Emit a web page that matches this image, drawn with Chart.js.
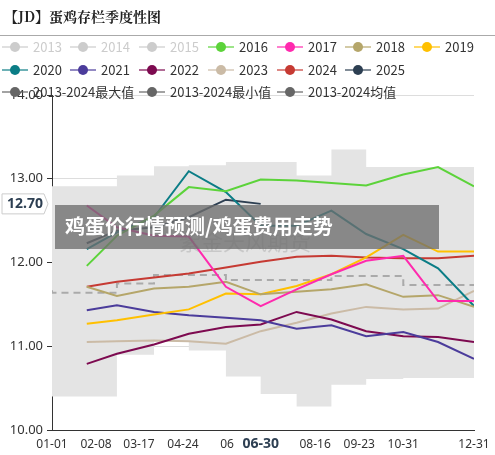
<!DOCTYPE html>
<html><head><meta charset="utf-8">
<script src="https://cdn.jsdelivr.net/npm/chart.js@4"></script>
<style>
body{margin:0;background:#fff;font-family:"Noto Sans CJK SC","Noto Sans",sans-serif}
#wrap{position:relative;width:495px;height:455px}
#title{position:absolute;left:4px;top:6px;font:bold 14px "Noto Serif CJK SC","Noto Sans CJK SC",serif;color:#222}
#rule{position:absolute;left:0;top:35px;width:495px;border-top:1px solid #aaa}
.lg{position:absolute;font-size:13px;color:#333;white-space:nowrap;height:16px;line-height:16px}
.lg i{position:absolute;left:0;top:7px;width:26px;height:2px}
.lg b{position:absolute;left:8px;top:3px;width:10px;height:10px;border-radius:50%}
.lg span{position:absolute;left:31px;top:0}
canvas{position:absolute;left:0;top:0}
</style></head><body>
<div id="wrap">
<canvas id="c" width="495" height="455"></canvas>
<div id="title">【JD】蛋鸡存栏季度性图</div>
<div id="rule"></div>
</div>
<script>
// point days (x axis is day of year)
const days = [30, 56, 88, 118, 150, 180, 211, 241, 271, 303, 333, 364];
const bandDays = [0, 56, 88, 118, 150, 180, 211, 241, 271, 303, 333, 364];
const tickDays = [0, 38, 75, 113, 151, 189, 227, 265, 303, 364];
const tickLabels = ["01-01", "02-08", "03-17", "04-24", "06", "", "08-16", "09-23", "10-31", "12-31"];

const y2016 = [11.96, 12.32, 12.56, 12.90, 12.85, 12.99, 12.98, 12.95, 12.92, 13.05, 13.14, 12.91];
const y2017 = [12.68, 12.42, 12.32, 12.31, 11.71, 11.48, 11.68, 11.86, 12.02, 12.08, 11.54, 11.54];
const y2018 = [11.71, 11.60, 11.69, 11.71, 11.77, 11.62, 11.65, 11.68, 11.74, 11.59, 11.61, 11.47];
const y2019 = [11.27, 11.31, 11.38, 11.44, 11.63, 11.62, 11.72, 11.86, 12.06, 12.33, 12.13, 12.13];
const y2020 = [12.16, 12.36, 12.54, 13.09, 12.84, 12.44, 12.44, 12.62, 12.34, 12.16, 11.93, 11.48];
const y2021 = [11.43, 11.49, 11.41, 11.37, 11.34, 11.31, 11.21, 11.25, 11.12, 11.17, 11.05, 10.85];
const y2022 = [10.79, 10.91, 11.02, 11.15, 11.23, 11.26, 11.41, 11.32, 11.18, 11.12, 11.11, 11.05];
const y2023 = [11.05, 11.06, 11.07, 11.06, 11.03, 11.18, 11.28, 11.39, 11.47, 11.44, 11.45, 11.66];
const y2024 = [11.71, 11.77, 11.82, 11.87, 11.94, 12.01, 12.07, 12.08, 12.06, 12.05, 12.05, 12.08];
const y2025 = [12.23, 12.38, 12.42, 12.54, 12.75, 12.70];
const maxVals = [12.85, 12.91, 13.04, 13.15, 13.16, 13.20, 13.20, 13.04, 13.35, 13.14, 13.14];
const minVals = [10.49, 10.40, 10.90, 11.06, 10.95, 10.64, 10.43, 10.28, 10.54, 10.61, 10.62];
const meanVals = [11.67, 11.64, 11.75, 11.85, 11.85, 11.79, 11.79, 11.79, 11.84, 11.84, 11.73];

const years = [
  ["2013", "#cccccc", null], ["2014", "#cccccc", null], ["2015", "#cccccc", null],
  ["2016", "#5cd33a", y2016], ["2017", "#ff2aae", y2017], ["2018", "#b5a66a", y2018],
  ["2019", "#ffc000", y2019], ["2020", "#0b7d86", y2020], ["2021", "#4b3c9b", y2021],
  ["2022", "#7d0a50", y2022], ["2023", "#cbbba6", y2023], ["2024", "#c63a33", y2024],
  ["2025", "#2d3f52", y2025]
];

function pts(xs, ys) { return ys.map((v, i) => ({ x: xs[i], y: v })); }
function stepPts(vals) { return pts(bandDays, vals.concat([vals[vals.length - 1]])); }

// legend
const wrap = document.getElementById("wrap");
const legendItems = years.map(y => [y[0], y[1]]).concat([
  ["2013-2024最大值", "#666"], ["2013-2024最小值", "#666"], ["2013-2024均值", "#666"]
]);
const legendPos = [
  [2, 39], [70, 39], [139, 39], [208, 39], [277, 39], [345, 39], [414, 39],
  [2, 62], [70, 62], [139, 62], [208, 62], [277, 62], [345, 62],
  [2, 84], [139, 84], [277, 84]
];
legendItems.forEach((it, i) => {
  const d = document.createElement("div");
  d.className = "lg";
  d.style.left = legendPos[i][0] + "px";
  d.style.top = legendPos[i][1] + "px";
  const grey = it[1] === "#cccccc";
  d.innerHTML = '<i style="background:' + it[1] + ';opacity:.6"></i><b style="background:' + it[1] + '"></b><span style="color:' + (grey ? "#ccc" : "#333") + '">' + it[0] + "</span>";
  wrap.appendChild(d);
});

const datasets = [];
years.forEach(y => {
  if (!y[2]) return;
  datasets.push({ data: pts(days, y[2]), borderColor: y[1], borderWidth: 2, pointRadius: 0, tension: 0, fill: false });
});
datasets.push({ data: stepPts(meanVals), borderColor: "#aaaaaa", borderWidth: 2, borderDash: [7, 5], pointRadius: 0, stepped: "after", fill: false });
datasets.push({ data: stepPts(minVals), borderWidth: 0, pointRadius: 0, stepped: "after", fill: false });
datasets.push({ data: stepPts(maxVals), borderWidth: 0, pointRadius: 0, stepped: "after", fill: "-1", backgroundColor: "#e4e4e4" });
// band drawn first
datasets.forEach((d, i) => d.order = i < datasets.length - 3 ? 0 : 5);

const overlay = {
  id: "overlay",
  afterDraw(chart) {
    const ctx = chart.ctx, xs = chart.scales.x, ys = chart.scales.y;
    ctx.save();
    // watermark
    ctx.font = "22px 'Noto Sans CJK SC'";
    ctx.fillStyle = "rgba(150,150,150,0.35)";
    ctx.textAlign = "center";
    ctx.fillText("紫金天风期货", 245, 250);
    // banner
    ctx.fillStyle = "rgba(110,110,110,0.78)";
    ctx.fillRect(55, 205, 384, 44);
    ctx.fillStyle = "#fff";
    ctx.textAlign = "left";
    ctx.font = "bold 20px 'Noto Sans CJK SC'";
    ctx.fillText("鸡蛋价行情预测/鸡蛋费用走势", 65, 234);
    // pointer label
    const py = ys.getPixelForValue(12.70);
    ctx.fillStyle = "#fff";
    ctx.strokeStyle = "#ccc";
    ctx.beginPath();
    ctx.moveTo(2, py - 10); ctx.lineTo(44, py - 10); ctx.lineTo(48, py); ctx.lineTo(44, py + 10); ctx.lineTo(2, py + 10); ctx.closePath();
    ctx.fill(); ctx.stroke();
    ctx.fillStyle = "#2d3f52";
    ctx.font = "bold 14px 'Noto Sans'";
    ctx.textAlign = "center";
    ctx.textBaseline = "middle";
    ctx.fillText("12.70", 25, py);
    // current date label
    ctx.font = "bold 14px 'Noto Sans'";
    ctx.textBaseline = "top";
    ctx.fillText("06-30", xs.getPixelForValue(180), xs.bottom - 18);
    ctx.restore();
  }
};

new Chart(document.getElementById("c"), {
  type: "line",
  data: { datasets },
  options: {
    responsive: false,
    animation: false,
    layout: { padding: { top: 95, right: 21, left: 0, bottom: 0 } },
    plugins: { legend: { display: false }, tooltip: { enabled: false } },
    scales: {
      x: {
        type: "linear", min: 0, max: 364,
        afterBuildTicks: s => { s.ticks = tickDays.map(v => ({ value: v })); },
        afterFit: s => { s.height = 25; },
        ticks: { autoSkip: false, maxRotation: 0, color: "#333", font: { size: 12, family: "Noto Sans" }, padding: 2,
          callback: (v) => tickLabels[tickDays.indexOf(v)] },
        grid: { display: false, drawTicks: true, tickLength: 5, tickColor: "#333" },
        border: { color: "#333" }
      },
      y: {
        min: 10, max: 14,
        afterFit: s => { s.width = 52; },
        afterBuildTicks: s => { s.ticks = [10, 11, 12, 13, 14].map(v => ({ value: v })); },
        ticks: { color: "#333", font: { size: 13, family: "Noto Sans" }, callback: v => v.toFixed(2), padding: 4 },
        grid: { color: "#dddddd", tickLength: 5, tickColor: "#333" },
        border: { color: "#333" }
      }
    }
  },
  plugins: [overlay]
});
</script>
</body></html>
